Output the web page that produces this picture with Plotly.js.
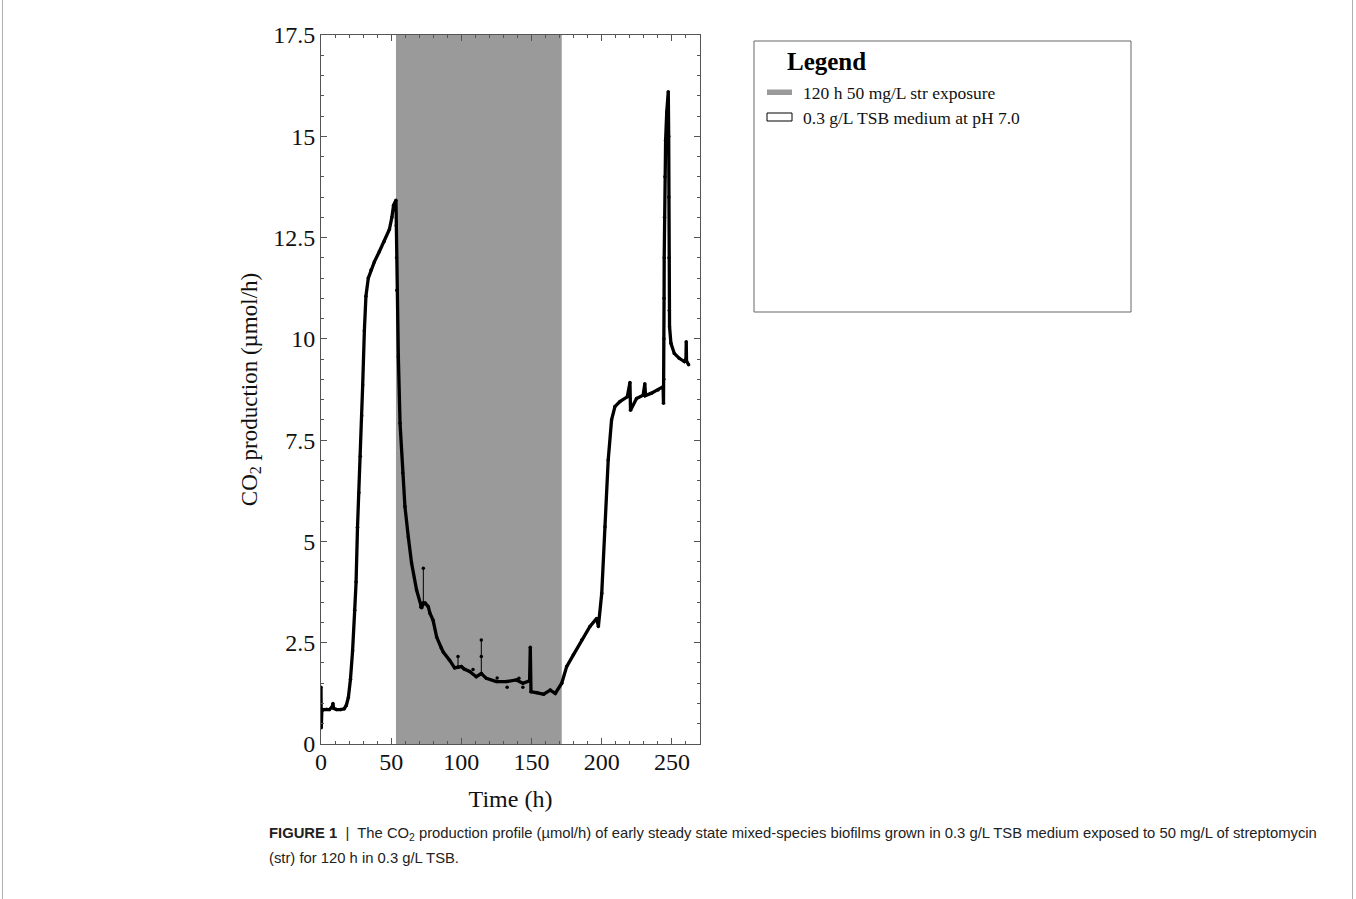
<!DOCTYPE html>
<html>
<head>
<meta charset="utf-8">
<script src="https://cdn.plot.ly/plotly-3.0.1.min.js"></script>
<style>
  html, body { margin: 0; padding: 0; background: #fff; }
  #wrap { position: relative; width: 1356px; height: 899px; }
  #chart { width: 1356px; height: 899px; }
  .frame { position: absolute; top: 0; width: 0; height: 899px; border-left: 1px solid #b0b0b0; }
</style>
</head>
<body>
<div id="wrap">
  <div id="chart"></div>
  <div class="frame" style="left:2px"></div>
  <div class="frame" style="left:1352px"></div>
</div>
<script>
// ---- Data ----
// Main CO2 production trace (time in h, CO2 in µmol/h)
const timeH = [0, 0.2, 0.6, 2, 4, 6, 8, 8.5, 9, 11, 14, 16.5, 18, 19.5, 21, 22.5, 24, 25, 26, 27, 28, 29, 29.7, 30.9, 32, 33.7, 35.6, 38, 41.5, 45, 48.7, 50.5, 51.7, 53.4,
  53.6, 53.8, 54, 55.1, 56.3, 58.2, 59.8, 62.2, 64.5, 68.1, 71, 71.7, 72.9, 74.1, 76.4, 77.6, 79.8, 82.4, 85.7, 87.1, 91.6, 95.2, 100, 102, 105.9, 110.6, 114.2, 117.8, 124.9, 132, 139.1, 143.8, 148.6, 149.1, 149.6,
  153.8, 158.6, 163.3, 166.9, 171.5, 175, 179.8, 185.7, 191.6, 196.4, 197.6, 200, 202.3, 204.6, 207, 209.4, 212.9, 218.2, 220.1, 220.5, 224.8, 229.5, 230.7, 231.2, 235.4, 240.1, 243.7,
  244, 244.2, 244.3, 244.4, 244.5, 244.7, 245, 245.5, 246.3, 247.4, 247.7, 247.8, 247.9, 248.1, 248.3, 249.3, 251.7, 255.2, 258.8, 260, 260.2, 260.4, 261.9];
const co2 = [1.4, 0.4, 0.82, 0.85, 0.86, 0.85, 0.92, 1.0, 0.88, 0.85, 0.85, 0.87, 0.95, 1.15, 1.6, 2.3, 3.3, 4.0, 5.35, 6.2, 7.1, 8.1, 8.86, 10.2, 11.05, 11.5, 11.7, 11.9, 12.15, 12.4, 12.7, 13.0, 13.3, 13.42,
  12.8, 12.0, 11.2, 9.56, 7.92, 6.69, 5.86, 5.11, 4.47, 3.8, 3.38, 3.36, 3.48, 3.48, 3.39, 3.23, 3.06, 2.64, 2.37, 2.27, 2.07, 1.88, 1.91, 1.85, 1.79, 1.66, 1.74, 1.62, 1.54, 1.54, 1.58, 1.50, 1.56, 2.39, 1.29,
  1.27, 1.23, 1.33, 1.25, 1.5, 1.91, 2.2, 2.57, 2.9, 3.1, 2.9, 3.72, 5.36, 7.01, 8.0, 8.33, 8.45, 8.57, 8.92, 8.24, 8.53, 8.61, 8.89, 8.6, 8.66, 8.74, 8.82,
  8.41, 9.0, 10.0, 11.0, 12.0, 13.0, 14.0, 14.9, 15.6, 16.1, 15.0, 13.5, 12.0, 10.7, 10.3, 9.89, 9.64, 9.52, 9.44, 9.5, 9.93, 9.45, 9.36];

// Isolated spikes / outlier readings (null separates segments)
const spikeTime = [72.9, 72.9, null, 97.6, 97.6, null, 114.2, 114.2, 114.2, null, 108.3, null, 125.5, null, 132.6, null, 141, null, 143.8];
const spikeCO2  = [3.45, 4.34, null, 1.9, 2.16, null, 1.74, 2.16, 2.57, null, 1.84, null, 1.63, null, 1.40, null, 1.62, null, 1.40];

// Streptomycin exposure window (h)
const exposureStart = 53.4;
const exposureEnd = 171.5;

// Axis / labels
const xTitle = 'Time (h)';
const yTitle = 'CO<sub>2</sub> production (µmol/h)';
const legendTitle = 'Legend';
const legendItems = ['120 h 50 mg/L str exposure', '0.3 g/L TSB medium at pH 7.0'];
const captionLine1 = '<b>FIGURE 1</b>  |  The CO<sub>2</sub> production profile (µmol/h) of early steady state mixed-species biofilms grown in 0.3 g/L TSB medium exposed to 50 mg/L of streptomycin';
const captionLine2 = '(str) for 120 h in 0.3 g/L TSB.';

// ---- Geometry ----
const W = 1356, H = 899;
const L = 321, R = 700, T = 35, B = 744;
const pw = R - L, ph = B - T;
const px = v => (v - L) / pw;       // pixel -> paper x
const py = v => (B - v) / ph;       // pixel -> paper y

const serif = 'Liberation Serif, Times New Roman, serif';
const axisCol = '#555555';

const traces = [
  {
    x: timeH, y: co2, type: 'scatter', mode: 'lines+markers',
    line: { color: '#000', width: 3.3 },
    marker: { color: '#000', size: 3.5 },
    showlegend: false, hoverinfo: 'x+y'
  },
  {
    x: spikeTime, y: spikeCO2, type: 'scatter', mode: 'lines+markers',
    line: { color: '#000', width: 1 },
    marker: { color: '#000', size: 3.5 },
    connectgaps: false, showlegend: false, hoverinfo: 'x+y'
  }
];

const axisCommon = {
  showline: true, linecolor: axisCol, linewidth: 1, mirror: 'allticks',
  ticks: 'inside', ticklen: 6, tickwidth: 1, tickcolor: axisCol,
  showgrid: false, zeroline: false,
  tickfont: { family: serif, size: 24, color: '#111' },
  automargin: false
};

const layout = {
  width: W, height: H,
  margin: { l: L, r: W - R, t: T, b: H - B, pad: 0 },
  paper_bgcolor: '#fff', plot_bgcolor: '#fff',
  showlegend: false,
  xaxis: Object.assign({}, axisCommon, {
    range: [0, 270], tick0: 0, dtick: 50,
    ticklabelstandoff: -4,
    minor: { dtick: 10, ticks: 'inside', ticklen: 3, tickcolor: axisCol },
    title: { text: xTitle, font: { family: serif, size: 24, color: '#111' }, standoff: 16 }
  }),
  yaxis: Object.assign({}, axisCommon, {
    range: [0, 17.5], tick0: 0, dtick: 2.5,
    minor: { dtick: 0.5, ticks: 'inside', ticklen: 3, tickcolor: axisCol },
    title: { text: yTitle, font: { family: serif, size: 23, color: '#111' }, standoff: 9 }
  }),
  shapes: [
    { type: 'rect', xref: 'x', yref: 'y', x0: exposureStart, x1: exposureEnd, y0: 0, y1: 17.5,
      fillcolor: '#9a9a9a', line: { width: 0 }, layer: 'below' },
    // legend box
    { type: 'rect', xref: 'paper', yref: 'paper', x0: px(754), x1: px(1131), y0: py(312), y1: py(41),
      fillcolor: '#fff', line: { color: '#666', width: 1 } },
    // legend swatches
    { type: 'rect', xref: 'paper', yref: 'paper', x0: px(767), x1: px(792), y0: py(95), y1: py(89.5),
      fillcolor: '#9a9a9a', line: { width: 0 } },
    { type: 'rect', xref: 'paper', yref: 'paper', x0: px(767), x1: px(792), y0: py(121), y1: py(113),
      fillcolor: '#fff', line: { color: '#000', width: 1 } }
  ],
  annotations: [
    { xref: 'paper', yref: 'paper', x: px(785), y: py(61), xanchor: 'left', yanchor: 'middle',
      text: '<b>' + legendTitle + '</b>', showarrow: false, font: { family: serif, size: 25, color: '#000' } },
    { xref: 'paper', yref: 'paper', x: px(801), y: py(93), xanchor: 'left', yanchor: 'middle',
      text: legendItems[0], showarrow: false, font: { family: serif, size: 17.5, color: '#111' } },
    { xref: 'paper', yref: 'paper', x: px(801), y: py(118), xanchor: 'left', yanchor: 'middle',
      text: legendItems[1], showarrow: false, font: { family: serif, size: 17.5, color: '#111' } },
    { xref: 'paper', yref: 'paper', x: px(267), y: py(834), xanchor: 'left', yanchor: 'middle',
      text: captionLine1, showarrow: false, font: { family: 'Liberation Sans, Arial, sans-serif', size: 14.8, color: '#222' } },
    { xref: 'paper', yref: 'paper', x: px(267), y: py(858), xanchor: 'left', yanchor: 'middle',
      text: captionLine2, showarrow: false, font: { family: 'Liberation Sans, Arial, sans-serif', size: 14.8, color: '#222' } }
  ]
};

Plotly.newPlot('chart', traces, layout, { displayModeBar: false, staticPlot: true });
</script>
</body>
</html>
